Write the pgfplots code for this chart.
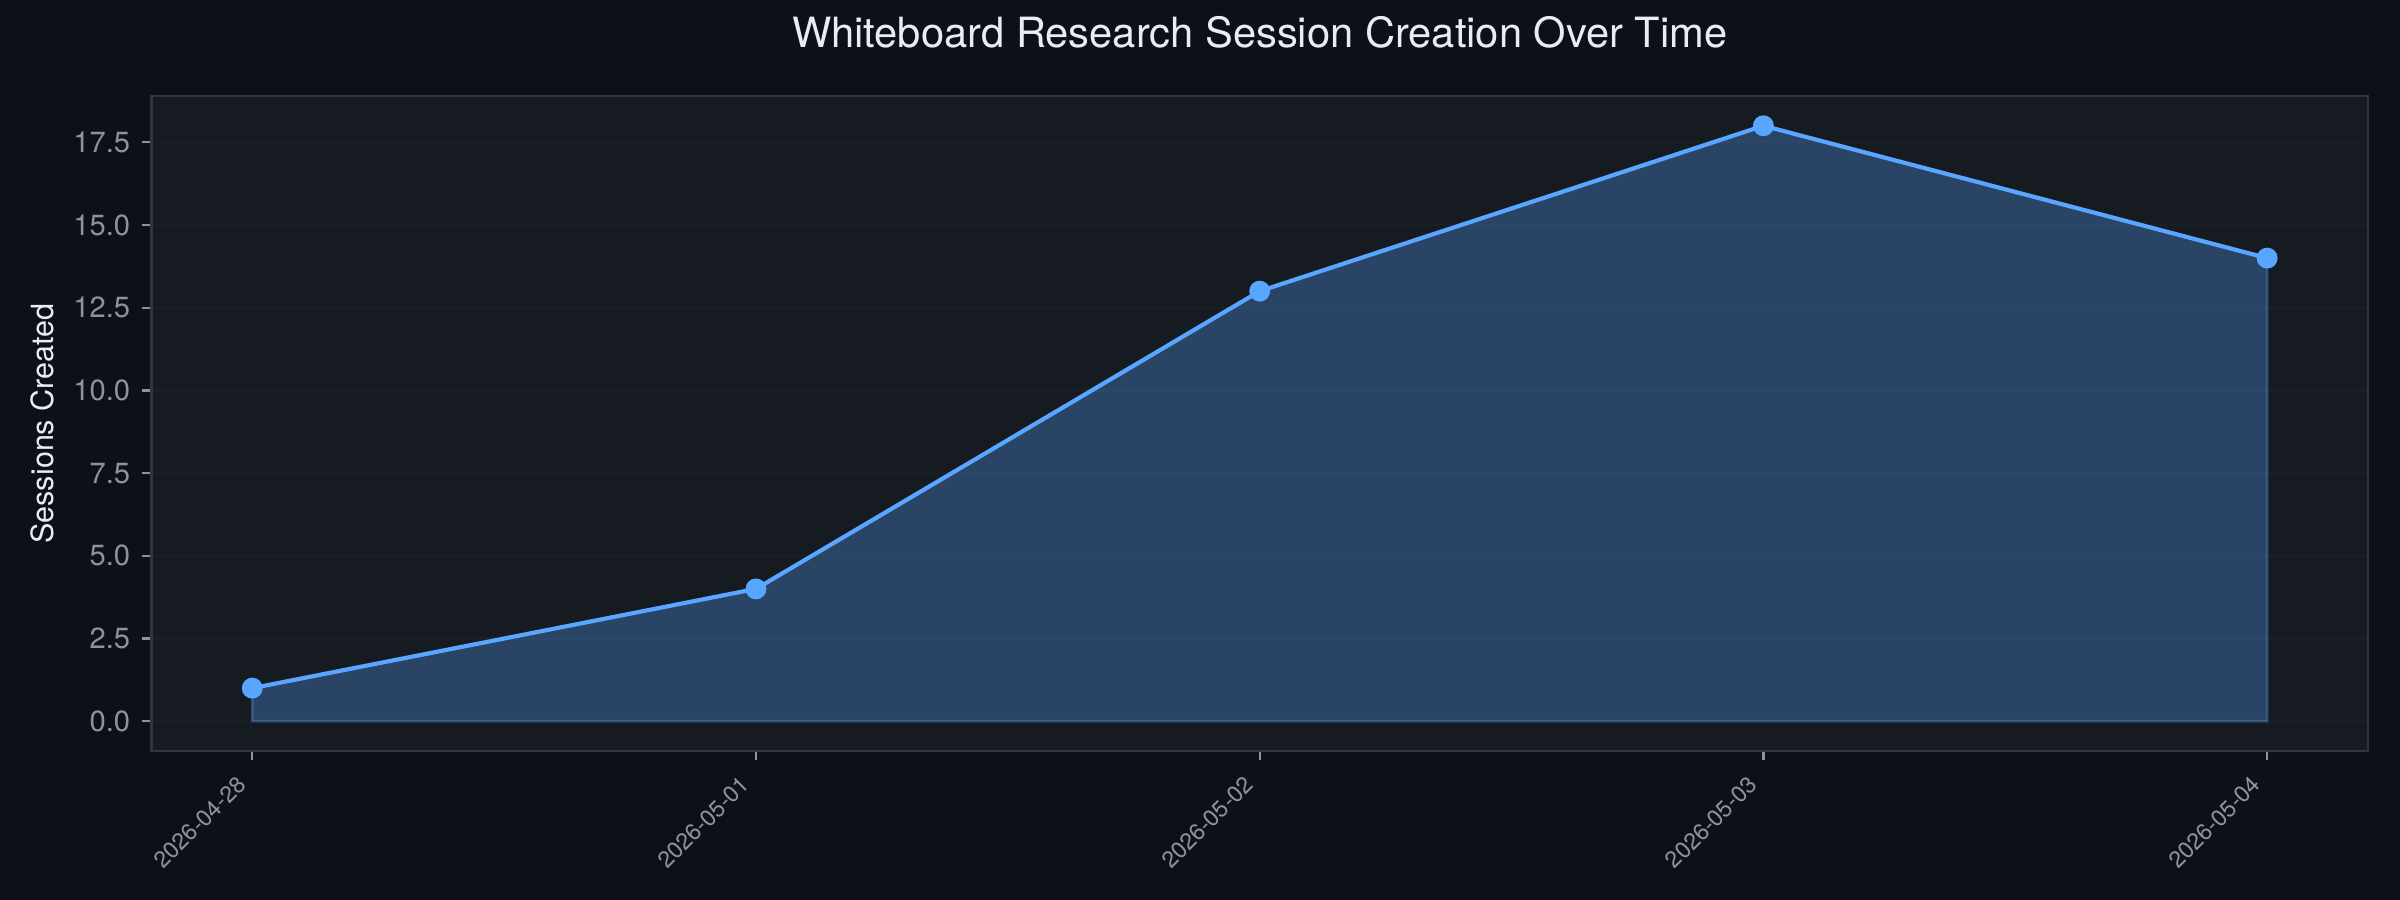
\documentclass[border=0pt]{standalone}
\usepackage{pgfplots}
\pgfplotsset{compat=1.18}
\usepackage{fontspec}
\setmainfont{TeX Gyre Heros}

\definecolor{figbg}{HTML}{0D1117}
\definecolor{axbg}{HTML}{161B22}
\definecolor{spine}{HTML}{30363D}
\definecolor{gridc}{HTML}{21262D}
\definecolor{ticktxt}{HTML}{8B949E}
\definecolor{titletxt}{HTML}{E6EDF3}
\definecolor{linec}{HTML}{58A6FF}

\pgfdeclarelayer{figbg}
\pgfplotsset{
  layers/mylayers/.define layer set={figbg, axis background, main, axis grid,
    axis ticks, axis lines, axis tick labels, axis descriptions, axis foreground}{},
}

\begin{document}
\begin{tikzpicture}
\begin{axis}[
  set layers=mylayers, clip=false,
  scale only axis, width=797.9bp, height=235.8bp,
  xmin=-0.2, xmax=4.2, ymin=-0.9, ymax=18.9,
  axis background/.style={fill=axbg},
  axis line style={spine, line width=0.8bp},
  xtick={0,1,2,3,4},
  xticklabels={2026-04-28,2026-05-01,2026-05-02,2026-05-03,2026-05-04},
  ytick={0,2.5,5,7.5,10,12.5,15,17.5},
  xtick pos=lower, ytick pos=left,
  tick align=outside, major tick length=3.3bp,
  major tick style={ticktxt, line width=0.8bp},
  ymajorgrids, major grid style={gridc, opacity=0.4, line width=0.8bp},
  /pgf/number format/assume math mode=true,
  yticklabel style={font=\fontsize{10.5bp}{12bp}\selectfont, text=ticktxt,
    /pgf/number format/fixed, /pgf/number format/fixed zerofill,
    /pgf/number format/precision=1, inner sep=0pt, xshift=-4.2bp},
  xticklabel style={font=\fontsize{8.3bp}{10bp}\selectfont, text=ticktxt,
    inner sep=0pt, anchor=north east, xshift=-6bp, yshift=-5bp, rotate=45},
  ylabel={Sessions Created},
  ylabel style={font=\fontsize{11bp}{13bp}\selectfont, text=titletxt,
    at={(axis description cs:-0.044,0.5)}, anchor=base, rotate=0},
  title={Whiteboard Research Session Creation Over Time},
  title style={font=\fontsize{15bp}{18bp}\selectfont, text=titletxt,
    at={(axis description cs:0.5,1.0488)}, anchor=base, yshift=0pt},
]
% figure background, 12in x 4.5in
\begin{pgfonlayer}{figbg}
\fill[figbg] ([xshift=-54.54bp,yshift=-53.64bp]rel axis cs:0,0)
  rectangle ([xshift=11.56bp,yshift=34.56bp]rel axis cs:1,1);
\end{pgfonlayer}
\addplot[fill=linec, fill opacity=0.3, draw=linec, draw opacity=0.3, line width=1bp]
  coordinates {(0,1) (1,4) (2,13) (3,18) (4,14)} \closedcycle;
\addplot[on layer=axis foreground, linec, line width=1.5bp, mark=*, mark size=3bp,
  mark options={fill=linec, draw=none}]
  coordinates {(0,1) (1,4) (2,13) (3,18) (4,14)};
\end{axis}
\end{tikzpicture}
\end{document}
